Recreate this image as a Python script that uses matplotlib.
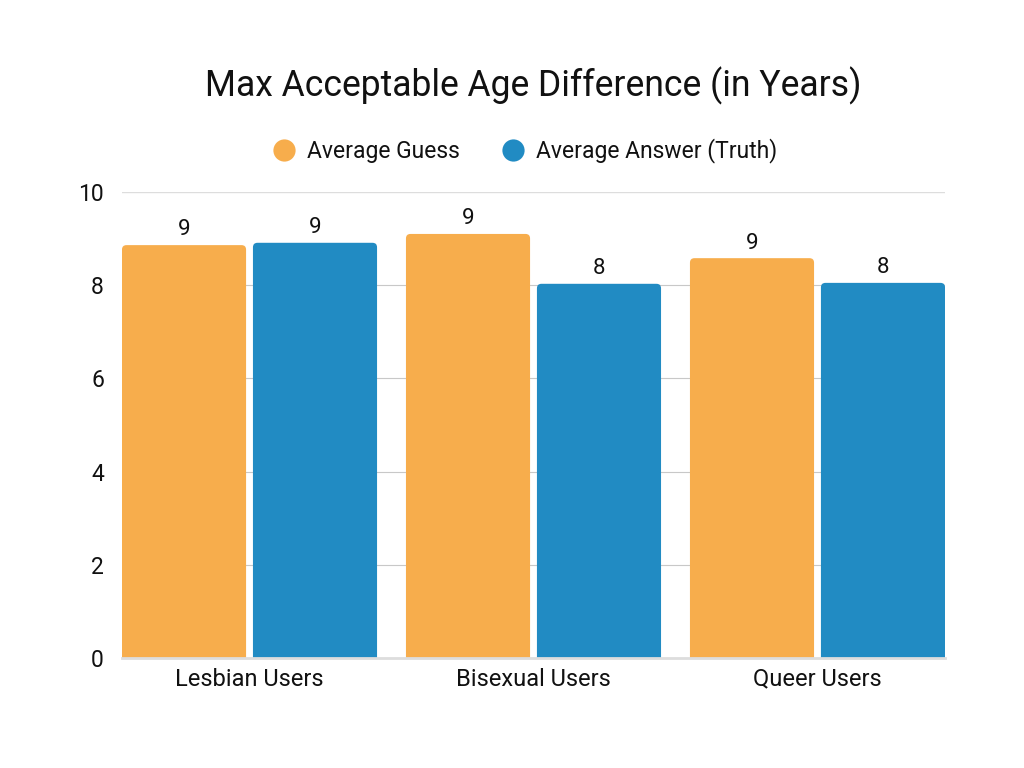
import matplotlib
matplotlib.use("Agg")
import matplotlib.pyplot as plt
from matplotlib.patches import FancyBboxPatch
from matplotlib.lines import Line2D
import numpy as np

categories = ["Lesbian Users", "Bisexual Users", "Queer Users"]
series_names = ["Average Guess", "Average Answer (Truth)"]
guess = [8.86, 9.10, 8.58]
truth = [8.91, 8.03, 8.05]
value_labels_guess = ["9", "9", "9"]
value_labels_truth = ["9", "8", "8"]
yticks = [0, 2, 4, 6, 8, 10]

colors = ["#F7AD4C", "#218BC3"]
plt.rcParams['font.family'] = ['Roboto', 'DejaVu Sans']

fig = plt.figure(figsize=(10.24, 7.68), dpi=100)
ax = fig.add_axes([122/1024, 1-658/768, (945-122)/1024, (658-192)/768])

x = np.arange(len(categories))
width = 0.437
offset = 0.2306
ax.set_xlim(-0.449, 2.449)
ax.set_ylim(0, 10)

# grid
for t in yticks[1:-1]:
    ax.axhline(t, color="#c8c8c8", lw=0.8, zorder=0)
ax.axhline(10, color="#dddddd", lw=1.0, zorder=0)

aspect = (284/46.6)
for vals, labs, off, col in [(guess, value_labels_guess, -offset, colors[0]),
                             (truth, value_labels_truth, offset, colors[1])]:
    bars = ax.bar(x + off, vals, width, color=col, alpha=0)
    for b, lab in zip(bars, labs):
        x0, w, h = b.get_x(), b.get_width(), b.get_height()
        p = FancyBboxPatch((x0, -0.3), w, h + 0.3,
                           boxstyle="round,pad=0,rounding_size=0.016",
                           mutation_aspect=aspect, fc=col, ec="none", zorder=2,
                           clip_on=True)
        ax.add_patch(p)
        ax.text(x0 + w/2, h + 0.1, lab, ha="center", va="bottom", fontsize=16, color="#111111", zorder=3)

ax.axhline(0, color="#dddddd", lw=2, zorder=3, clip_on=False)

ax.set_xticks(x)
ax.set_xticklabels(categories, fontsize=17, color="#111111")
ax.set_yticks(yticks)
ax.set_yticklabels([str(t) for t in yticks], fontsize=16.5, color="#111111")
ax.tick_params(axis="both", length=0)
ax.tick_params(axis="x", pad=7)
ax.tick_params(axis="y", pad=13)
for s in ax.spines.values():
    s.set_visible(False)

fig.text(533/1024, 1-86/768, "Max Acceptable Age Difference (in Years)", ha="center", va="center",
         fontsize=25.6, color="#111111")

handles = [Line2D([0], [0], marker="o", color="none", markerfacecolor=c, markeredgecolor="none", markersize=16)
           for c in colors]
fig.legend(handles, series_names, loc="center", bbox_to_anchor=(519/1024, 1-151/768), ncol=2,
           frameon=False, fontsize=16.5, handletextpad=0.0, columnspacing=1.3, labelcolor="#111111")

fig.savefig("out.png", dpi=100, facecolor="white")
